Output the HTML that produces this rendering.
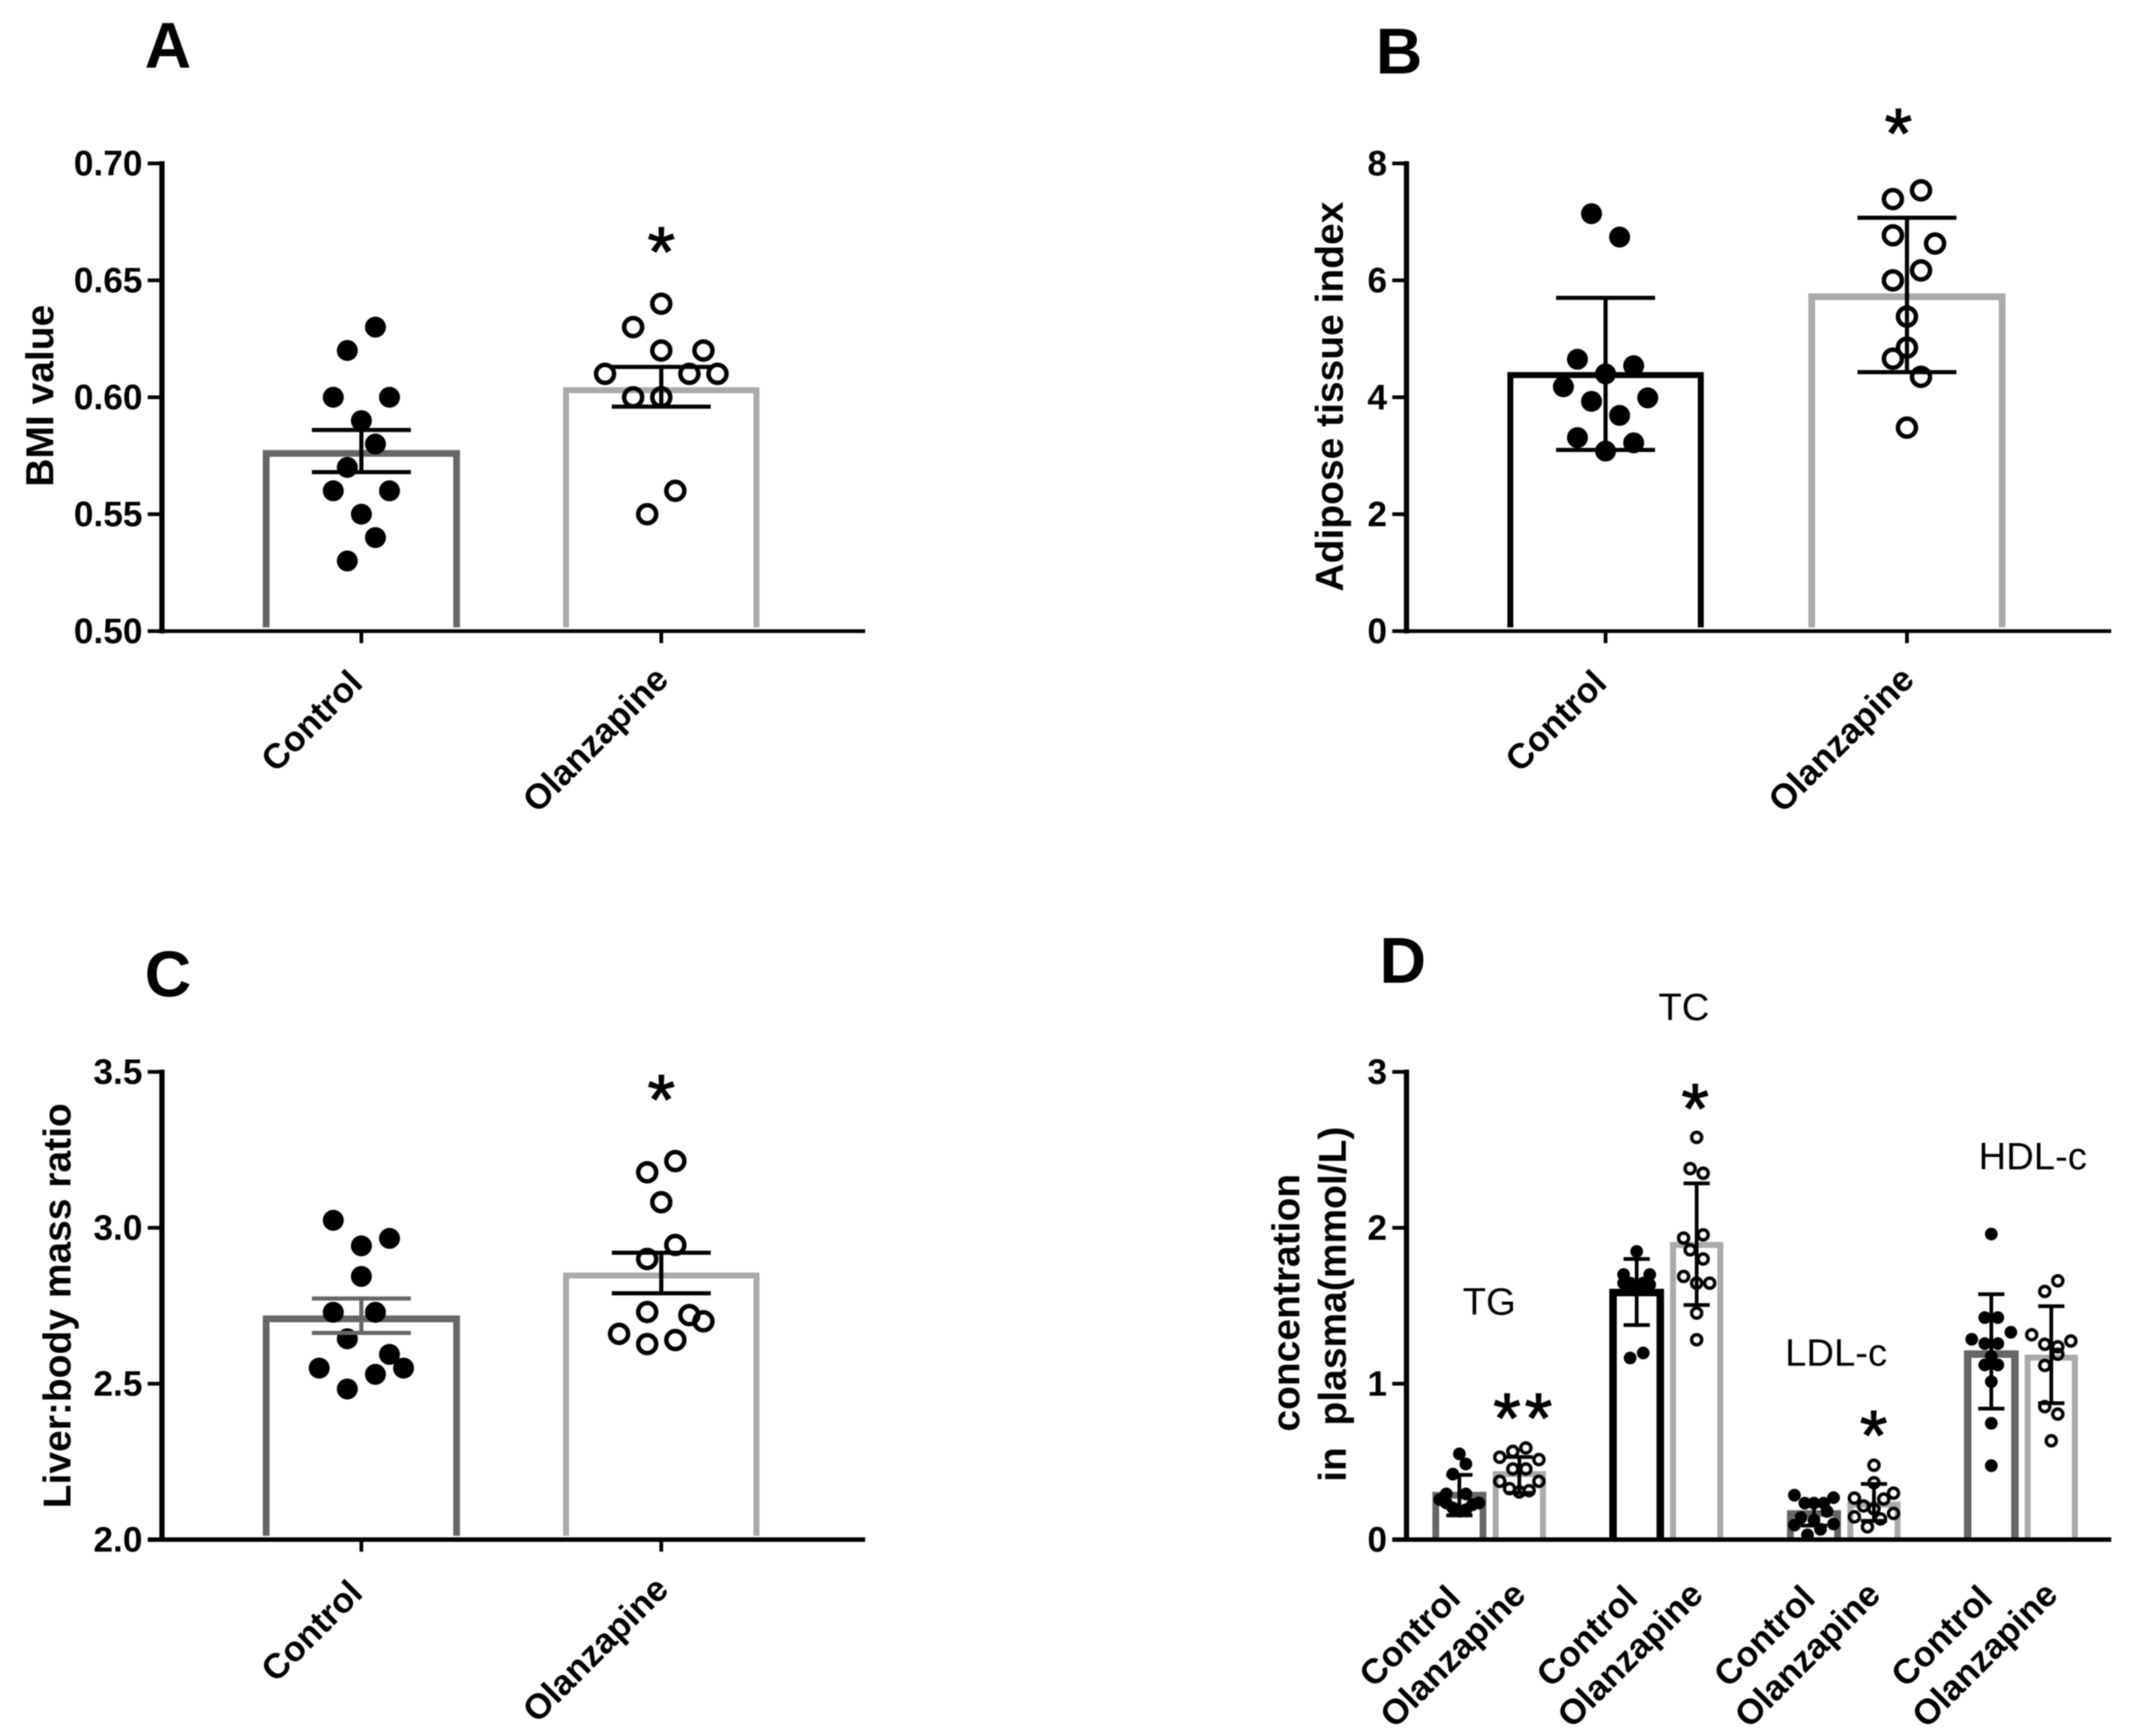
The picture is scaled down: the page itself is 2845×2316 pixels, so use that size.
<!DOCTYPE html>
<html lang="en">
<head>
<meta charset="utf-8">
<title>Olanzapine metabolic measures</title>
<style>
html,body{margin:0;padding:0;background:#fff;}
svg{display:block;filter:blur(0.7px);}
text{font-family:"Liberation Sans",sans-serif;fill:#000;}
</style>
</head>
<body>
<svg id="figure" width="2845" height="2316" viewBox="0 0 2845 2316" xmlns="http://www.w3.org/2000/svg"></svg>
<script>
// ---------- Panel A ----------
const aCategories = ['Control', 'Olanzapine'];
const aTicks = ['0.50', '0.55', '0.60', '0.65', '0.70'];
const aMeans = [0.576, 0.603];
const aErrHigh = [0.586, 0.613];
const aErrLow = [0.568, 0.596];
const aControlValues = [0.63, 0.62, 0.60, 0.60, 0.59, 0.58, 0.57, 0.56, 0.56, 0.55, 0.54, 0.53];
const aControlSlots = [1, -1, -2, 2, 0, 1, -1, -2, 2, 0, 1, -1];
const aOlanzapineValues = [0.64, 0.63, 0.62, 0.62, 0.61, 0.61, 0.61, 0.60, 0.60, 0.56, 0.55];
const aOlanzapineSlots = [0, -2, 0, 3, -4, 2, 4, -2, 0, 1, -1];

// ---------- Panel B ----------
const bCategories = ['Control', 'Olanzapine'];
const bTicks = ['0', '2', '4', '6', '8'];
const bMeans = [4.38, 5.72];
const bErrHigh = [5.70, 7.07];
const bErrLow = [3.10, 4.43];
const bControlValues = [7.14, 6.74, 4.65, 4.54, 4.40, 4.18, 3.93, 3.99, 3.69, 3.31, 3.22, 3.08];
const bControlSlots = [-1, 1, -2, 2, 0, -3, -1, 3, 1, -2, 2, 0];
const bOlanzapineValues = [7.54, 7.39, 6.77, 6.63, 6.17, 6.00, 5.38, 4.85, 4.66, 4.35, 3.48];
const bOlanzapineSlots = [1, -1, -1, 2, 1, -1, 0, 0, -1, 1, 0];

// ---------- Panel C ----------
const cCategories = ['Control', 'Olanzapine'];
const cTicks = ['2.0', '2.5', '3.0', '3.5'];
const cMeans = [2.708, 2.847];
const cErrHigh = [2.773, 2.92];
const cErrLow = [2.663, 2.79];
const cControlValues = [3.024, 2.966, 2.942, 2.844, 2.729, 2.729, 2.644, 2.594, 2.55, 2.55, 2.53, 2.483];
const cControlSlots = [-2, 2, 0, 0, -2, 1, -1, 2, 3, -3, 1, -1];
const cOlanzapineValues = [3.214, 3.178, 3.082, 2.945, 2.90, 2.73, 2.72, 2.70, 2.66, 2.64, 2.627];
const cOlanzapineSlots = [1, -1, 0, 1, -1, -1, 2, 3, -3, 1, -1];

// ---------- Panel D ----------
const dGroups = ['TG', 'TC', 'LDL-c', 'HDL-c'];
const dCategories = ['Control', 'Olanzapine'];
const dTicks = ['0', '1', '2', '3'];
const dControlMeans = [0.285, 1.585, 0.167, 1.19];
const dOlanzapineMeans = [0.42, 1.89, 0.225, 1.167];
const dControlErrHigh = [0.415, 1.80, 0.24, 1.574];
const dControlErrLow = [0.155, 1.376, 0.09, 0.84];
const dOlanzapineErrHigh = [0.53, 2.285, 0.357, 1.497];
const dOlanzapineErrLow = [0.30, 1.505, 0.12, 0.875];
const dTGControlValues = [0.55, 0.485, 0.42, 0.293, 0.293, 0.256, 0.235, 0.224, 0.203, 0.182, 0.235, 0.192];
const dTGControlSlots = [0, 1, -1, -2, 1, -3, 3, 2, -1, 0, -2, 1];
const dTGOlanzapineValues = [0.588, 0.566, 0.528, 0.513, 0.453, 0.453, 0.374, 0.374, 0.327, 0.314, 0.306];
const dTGOlanzapineSlots = [1, -1, -3, 3, -1, 1, -3, 3, -1.5, 1.5, 0];
const dTCControlValues = [1.848, 1.70, 1.70, 1.645, 1.635, 1.645, 1.645, 1.60, 1.197, 1.165];
const dTCControlSlots = [0, -2, 2, -2, 2, -1, 1, 0, 1, -1];
const dTCOlanzapineValues = [2.58, 2.38, 2.35, 1.934, 1.955, 1.859, 1.80, 1.688, 1.645, 1.645, 1.453, 1.282];
const dTCOlanzapineSlots = [0, -1, 1, -2, 1, -1, 1, -2, 0, 2, 0, 0];
const dLDLControlValues = [0.285, 0.269, 0.234, 0.234, 0.234, 0.181, 0.141, 0.125, 0.093, 0.10, 0.066, 0.03];
const dLDLControlSlots = [-3, 3, -1.4, 0, 1.5, 2, -2, 0, -3, 3, 1, -1];
const dLDLOlanzapineValues = [0.477, 0.365, 0.298, 0.266, 0.26, 0.216, 0.197, 0.168, 0.146, 0.133, 0.082];
const dLDLOlanzapineSlots = [0, 0, 3, -3, 1.5, -1.6, 0, 3, -3, 1, -1];
const dHDLControlValues = [1.96, 1.424, 1.424, 1.33, 1.285, 1.257, 1.257, 1.176, 1.12, 1.12, 1.013, 0.746, 0.474];
const dHDLControlSlots = [0, -1, 1, 3, -3, -1, 1, 0, -1, 1, 0, 0, 0];
const dHDLOlanzapineValues = [1.66, 1.592, 1.314, 1.274, 1.253, 1.237, 1.189, 1.117, 0.853, 0.805, 0.634];
const dHDLOlanzapineSlots = [1, -1, -3, 3, -1, 1, 1, -1, -1, 1, 0];

const NS = 'http://www.w3.org/2000/svg';
const figure = document.getElementById('figure');

function line(parent, x1, y1, x2, y2, color, width) {
  const el = document.createElementNS(NS, 'line');
  el.setAttribute('x1', x1);
  el.setAttribute('y1', y1);
  el.setAttribute('x2', x2);
  el.setAttribute('y2', y2);
  el.setAttribute('stroke', color);
  el.setAttribute('stroke-width', width);
  parent.appendChild(el);
  return el;
}

function label(parent, str, x, y, size, weight, anchor, rotate) {
  const el = document.createElementNS(NS, 'text');
  el.setAttribute('x', x);
  el.setAttribute('y', y);
  el.setAttribute('font-size', size);
  el.setAttribute('font-weight', weight);
  el.setAttribute('text-anchor', anchor);
  el.setAttribute('xml:space', 'preserve');
  el.style.whiteSpace = 'pre';
  if (rotate) el.setAttribute('transform', 'rotate(' + rotate + ' ' + x + ' ' + y + ')');
  el.textContent = str;
  parent.appendChild(el);
  return el;
}

function group(parent) {
  const el = document.createElementNS(NS, 'g');
  parent.appendChild(el);
  return el;
}

function linearY(domainMin, domainMax, top, bottom) {
  return function (v) {
    return bottom - (v - domainMin) / (domainMax - domainMin) * (bottom - top);
  };
}

function drawYAxis(parent, ticks, y, axisX, top, bottom, tickLeft, labelX, fontSize) {
  const spine = line(parent, axisX, top - 3, axisX, bottom + 3, '#000', 7);
  
  
  ticks.forEach(function (t) {
    const py = y(parseFloat(t));
    const tick = line(parent, tickLeft, py, axisX, py, '#000', 5);
    
    
    const txt = label(parent, t, labelX, py + 16, fontSize, 'bold', 'end');
    
    
  });
}

function drawBar(parent, cx, halfWidth, topY, bottomY, color, width) {
  const el = document.createElementNS(NS, 'path');
  el.setAttribute('d', 'M' + (cx - halfWidth) + ' ' + bottomY + 'L' + (cx - halfWidth) + ' ' + topY + 'L' + (cx + halfWidth) + ' ' + topY + 'L' + (cx + halfWidth) + ' ' + bottomY);
  el.setAttribute('fill', 'none');
  el.setAttribute('stroke', color);
  el.setAttribute('stroke-width', width);
  
  
  parent.appendChild(el);
  return el;
}

function drawError(parent, cx, capHalf, yHigh, yLow, color, width) {
  const g = group(parent);
  
  
  line(g, cx, yHigh, cx, yLow, color, width);
  line(g, cx - capHalf, yHigh, cx + capHalf, yHigh, color, width);
  line(g, cx - capHalf, yLow, cx + capHalf, yLow, color, width);
  return g;
}

function drawPoints(parent, values, slots, cx, slotWidth, y, radius, open, strokeW) {
  values.forEach(function (v, i) {
    const el = document.createElementNS(NS, 'circle');
    el.setAttribute('cx', cx + slots[i] * slotWidth);
    el.setAttribute('cy', y(v));
    if (open) {
      el.setAttribute('r', radius - strokeW / 2);
      el.setAttribute('fill', 'none');
      el.setAttribute('stroke', '#000');
      el.setAttribute('stroke-width', strokeW);
    } else {
      el.setAttribute('r', radius);
      el.setAttribute('fill', '#000');
    }
    
    
    parent.appendChild(el);
  });
}

function drawStar(parent, cx, cy) {
  const el = label(parent, '*', cx, cy + 52, 94, 'normal', 'middle');
  el.setAttribute('stroke', '#000');
  el.setAttribute('stroke-width', '1.5');
  
  
  return el;
}

function panelLetter(str, x, y) {
  const el = label(figure, str, x, y, 86, 'bold', 'start');
  
  
}

function drawTwoBarPanel(opts) {
  const g = group(figure);
  
  
  const y = linearY(opts.min, opts.max, opts.top, opts.bottom);
  const xCat = function (i) { return opts.x0 + i * opts.step; };
  const colors = opts.barColors;
  const widths = opts.barWidths;

  opts.means.forEach(function (m, i) {
    drawBar(g, xCat(i), 127, y(m), opts.bottom - 5, colors[i], widths[i]);
  });

  const xLine = line(g, opts.axisX - 19, opts.bottom, opts.axisRight, opts.bottom, '#000', opts.xAxisWidth);
  
  
  drawYAxis(g, opts.ticks, y, opts.axisX, opts.top, opts.bottom, opts.axisX - 19, opts.labelX, 47);

  opts.categories.forEach(function (c, i) {
    const t = line(g, xCat(i), opts.bottom, xCat(i), opts.bottom + 16, '#000', 5);
    
    
    const lx = xCat(i) + (i === 0 ? 4 : 12);
    const lb = label(g, c, lx, opts.bottom + opts.labelDy[i], 47, 'bold', 'end', -45);
    
    
  });

  drawPoints(g, opts.controlValues, opts.controlSlots, xCat(0), 18.75, y, 14, false, 0);
  drawPoints(g, opts.olanzapineValues, opts.olanzapineSlots, xCat(1), 18.75, y, 15, true, 6);
  opts.means.forEach(function (m, i) {
    drawError(g, xCat(i), 66, y(opts.errHigh[i]), y(opts.errLow[i]), opts.errColors[i], 5.5);
  });
  drawStar(g, xCat(1) + opts.starDx, opts.starY);

  const title = label(g, opts.title, opts.titleX, opts.titleY, 52, 'bold', 'middle', -90);
  
  
}

panelLetter('A', 193, 90);
panelLetter('B', 1835, 98);
panelLetter('C', 193, 1329);
panelLetter('D', 1840, 1311);

drawTwoBarPanel({
  name: 'panel-a', categories: aCategories, ticks: aTicks, means: aMeans, errHigh: aErrHigh, errLow: aErrLow,
  controlValues: aControlValues, controlSlots: aControlSlots, olanzapineValues: aOlanzapineValues, olanzapineSlots: aOlanzapineSlots,
  min: 0.5, max: 0.7, top: 218, bottom: 842, x0: 482, step: 400, axisX: 216, axisRight: 1154, labelX: 190, xAxisWidth: 5, labelDy: [72, 67],
  barColors: ['#666', '#aaa'], barWidths: [9, 8], errColors: ['#000', '#000'], starDx: 0, starY: 316,
  title: 'BMI value', titleX: 71, titleY: 528
});

drawTwoBarPanel({
  name: 'panel-b', categories: bCategories, ticks: bTicks, means: bMeans, errHigh: bErrHigh, errLow: bErrLow,
  controlValues: bControlValues, controlSlots: bControlSlots, olanzapineValues: bOlanzapineValues, olanzapineSlots: bOlanzapineSlots,
  min: 0, max: 8, top: 218, bottom: 842, x0: 2141.5, step: 402, axisX: 1876, axisRight: 2816, labelX: 1850, xAxisWidth: 5, labelDy: [72, 67],
  barColors: ['#000', '#aaa'], barWidths: [8, 9], errColors: ['#000', '#000'], starDx: -11.5, starY: 158,
  title: 'Adipose tissue index', titleX: 1791, titleY: 529
});

drawTwoBarPanel({
  name: 'panel-c', categories: cCategories, ticks: cTicks, means: cMeans, errHigh: cErrHigh, errLow: cErrLow,
  controlValues: cControlValues, controlSlots: cControlSlots, olanzapineValues: cOlanzapineValues, olanzapineSlots: cOlanzapineSlots,
  min: 2, max: 3.5, top: 1430, bottom: 2054, x0: 482, step: 400, axisX: 216, axisRight: 1154, labelX: 190, xAxisWidth: 6, labelDy: [74, 69],
  barColors: ['#666', '#aaa'], barWidths: [9, 8], errColors: ['#666', '#000'], starDx: 0, starY: 1447,
  title: 'Liver:body mass ratio', titleX: 94, titleY: 1742
});

(function drawPanelD() {
  const g = group(figure);
  
  
  const top = 1430, bottom = 2054, axisX = 1876, axisRight = 2816;
  const y = linearY(0, 3, top, bottom);
  const xBar = function (groupIndex, member) { return 1946.5 + groupIndex * 236.5 + member * 80; };
  const controlColors = ['#666', '#000', '#666', '#666'];
  const controlWidths = [9, 10, 9, 10];
  const controlPoints = [dTGControlValues, dTCControlValues, dLDLControlValues, dHDLControlValues];
  const controlSlots = [dTGControlSlots, dTCControlSlots, dLDLControlSlots, dHDLControlSlots];
  const olzPoints = [dTGOlanzapineValues, dTCOlanzapineValues, dLDLOlanzapineValues, dHDLOlanzapineValues];
  const olzSlots = [dTGOlanzapineSlots, dTCOlanzapineSlots, dLDLOlanzapineSlots, dHDLOlanzapineSlots];

  dGroups.forEach(function (name, i) {
    drawBar(g, xBar(i, 0), 31.5, y(dControlMeans[i]), bottom - 2, controlColors[i], controlWidths[i]);
    drawBar(g, xBar(i, 1), 31.5, y(dOlanzapineMeans[i]), bottom - 2, '#aaa', 8);
    drawPoints(g, controlPoints[i], controlSlots[i], xBar(i, 0), 8.7, y, 8.5, false, 0);
    drawPoints(g, olzPoints[i], olzSlots[i], xBar(i, 1), 8.7, y, 9, true, 4.5);
    drawError(g, xBar(i, 0), 17.5, y(dControlErrHigh[i]), y(dControlErrLow[i]), '#000', 5);
    drawError(g, xBar(i, 1), 17.5, y(dOlanzapineErrHigh[i]), y(dOlanzapineErrLow[i]), '#000', 5);
    const c0 = label(g, dCategories[0], xBar(i, 0) + 4, 2135, 47, 'bold', 'end', -45);
    
    
    const c1 = label(g, dCategories[1], xBar(i, 1) + 11, 2130, 47, 'bold', 'end', -45);
    
    
  });

  const xLine = line(g, axisX - 19, bottom, axisRight, bottom, '#000', 6);
  
  
  drawYAxis(g, dTicks, y, axisX, top, bottom, axisX - 19, 1850, 47);

  const groupLabelX = [1951, 2212, 2381, 2639];
  const groupLabelY = [1754, 1361, 1822, 1560];
  dGroups.forEach(function (name, i) {
    const el = label(g, name, groupLabelX[i], groupLabelY[i], 51, 'normal', 'start');
    
    
  });

  drawStar(g, 2010, 1872);
  drawStar(g, 2052, 1872);
  drawStar(g, 2261, 1459);
  drawStar(g, 2499, 1895);

  const t1 = label(g, 'concentration', 1733, 1738, 52, 'bold', 'middle', -90);
  
  
  const t2 = label(g, 'in  plasma(mmol/L)', 1795, 1740, 52, 'bold', 'middle', -90);
  
  
})();
</script>
</body>
</html>
